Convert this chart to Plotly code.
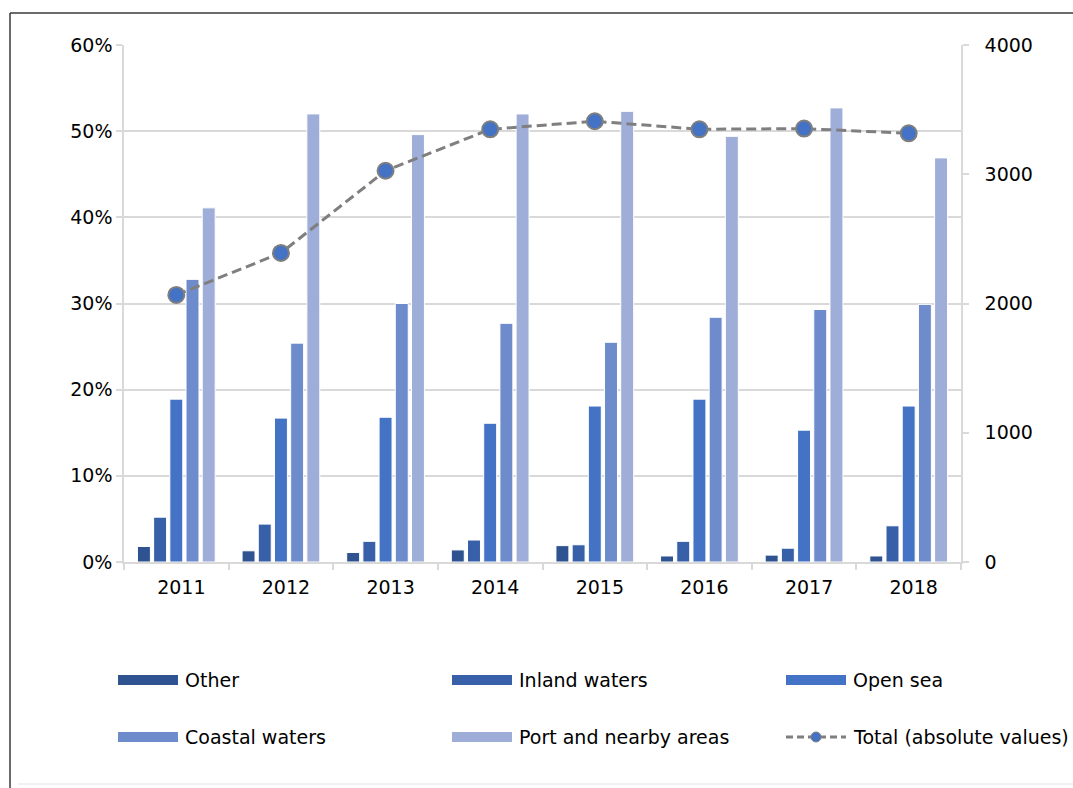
import plotly.graph_objects as go

years = ["2011", "2012", "2013", "2014", "2015", "2016", "2017", "2018"]
other = [1.8, 1.3, 1.1, 1.4, 1.9, 0.7, 0.8, 0.7]
inland = [5.2, 4.4, 2.4, 2.55, 2.0, 2.4, 1.6, 4.2]
open_sea = [18.9, 16.7, 16.8, 16.1, 18.1, 18.9, 15.3, 18.1]
coastal = [32.8, 25.4, 30.0, 27.7, 25.5, 28.4, 29.3, 29.9]
port = [41.1, 52.0, 49.6, 52.0, 52.3, 49.4, 52.7, 46.9]
total = [2066, 2391, 3027, 3348, 3410, 3348, 3353, 3317]

series_names = ["Other", "Inland waters", "Open sea", "Coastal waters", "Port and nearby areas"]
series_vals = [other, inland, open_sea, coastal, port]
colors = ["#2F5291", "#3860A9", "#4472C4", "#6E8BCC", "#9EAED9"]
line_name = "Total (absolute values)"

W, H = 1073, 788
L, R, T, B = 124, 961, 45, 562
FONT = "DejaVu Sans"
FS = 19

fig = go.Figure()
for name, vals, c in zip(series_names, series_vals, colors):
    fig.add_trace(go.Bar(
        x=years, y=[v / 100 for v in vals], name=name,
        marker=dict(color=c, line=dict(color="#FFFFFF", width=1)),
        showlegend=False,
    ))

fig.add_trace(go.Scatter(
    x=years, y=total, name=line_name, yaxis="y2", mode="lines+markers",
    line=dict(color="#7F7F7F", width=3, dash="10px,5px"),
    marker=dict(size=16, color="#4472C4", line=dict(color="#7F7F7F", width=2)),
    showlegend=False,
))


def px_x(px):
    return (px - L) / (R - L)


def px_y(py):
    return (B - py) / (B - T)


shapes = []
annotations = []
# frame lines
shapes.append(dict(type="line", xref="paper", yref="paper", x0=px_x(10), x1=px_x(W + 5),
                   y0=px_y(13), y1=px_y(13), line=dict(color="#6B6B6B", width=2)))
shapes.append(dict(type="line", xref="paper", yref="paper", x0=px_x(10), x1=px_x(10),
                   y0=px_y(13), y1=px_y(H + 5), line=dict(color="#3A3A3A", width=1.5)))
shapes.append(dict(type="line", xref="paper", yref="paper", x0=px_x(18), x1=px_x(W + 5),
                   y0=px_y(784), y1=px_y(784), line=dict(color="#E3E3E3", width=1)))

# custom legend
legend_items = [(n, c) for n, c in zip(series_names, colors)] + [(line_name, None)]
cols = [118, 452, 786]
rows = [680, 737]
for i, (name, c) in enumerate(legend_items):
    x0 = cols[i % 3]
    yc = rows[i // 3]
    if c is not None:
        shapes.append(dict(type="rect", xref="paper", yref="paper",
                           x0=px_x(x0), x1=px_x(x0 + 60), y0=px_y(yc - 5), y1=px_y(yc + 5),
                           fillcolor=c, line=dict(width=0)))
    else:
        shapes.append(dict(type="line", xref="paper", yref="paper",
                           x0=px_x(x0), x1=px_x(x0 + 60), y0=px_y(yc), y1=px_y(yc),
                           line=dict(color="#7F7F7F", width=3, dash="7px,4px")))
        shapes.append(dict(type="circle", xref="paper", yref="paper",
                           x0=px_x(x0 + 25), x1=px_x(x0 + 35), y0=px_y(yc - 5), y1=px_y(yc + 5),
                           fillcolor="#4472C4", line=dict(color="#7F7F7F", width=1)))
    annotations.append(dict(xref="paper", yref="paper", x=px_x(x0 + 65), y=px_y(yc),
                            text=name, showarrow=False, xanchor="left", yanchor="middle",
                            font=dict(family=FONT, size=FS, color="#000000")))

fig.update_layout(
    width=W, height=H,
    margin=dict(l=L, r=W - R, t=T, b=H - B, pad=0),
    paper_bgcolor="white", plot_bgcolor="white",
    barmode="group", bargap=0.226, bargroupgap=0.2,
    font=dict(family=FONT, size=FS, color="#000000"),
    showlegend=False,
    xaxis=dict(
        type="category", showline=True, linecolor="#D9D9D9", linewidth=1.5,
        ticks="outside", tickson="boundaries", ticklen=6, tickcolor="#D9D9D9", tickwidth=1.5,
        showgrid=False, ticklabelshift=5, ticklabelstandoff=7, tickfont=dict(size=FS),
    ),
    yaxis=dict(
        range=[0, 0.6], dtick=0.1, tickformat=".0%", showgrid=True, gridcolor="#D9D9D9",
        gridwidth=1.5, showline=True, linecolor="#D9D9D9", linewidth=1.5,
        ticks="outside", ticklen=6, tickcolor="#D9D9D9", tickwidth=1.5, zeroline=False,
        tickfont=dict(size=FS),
    ),
    yaxis2=dict(
        range=[0, 4000], dtick=1000, overlaying="y", side="right", showgrid=False,
        showline=True, linecolor="#D9D9D9", linewidth=1.5, ticks="outside", ticklen=6,
        tickcolor="#D9D9D9", tickwidth=1.5, zeroline=False, ticklabelstandoff=12,
        tickfont=dict(size=FS),
    ),
    shapes=shapes,
    annotations=annotations,
)

fig.write_html("out.html")
